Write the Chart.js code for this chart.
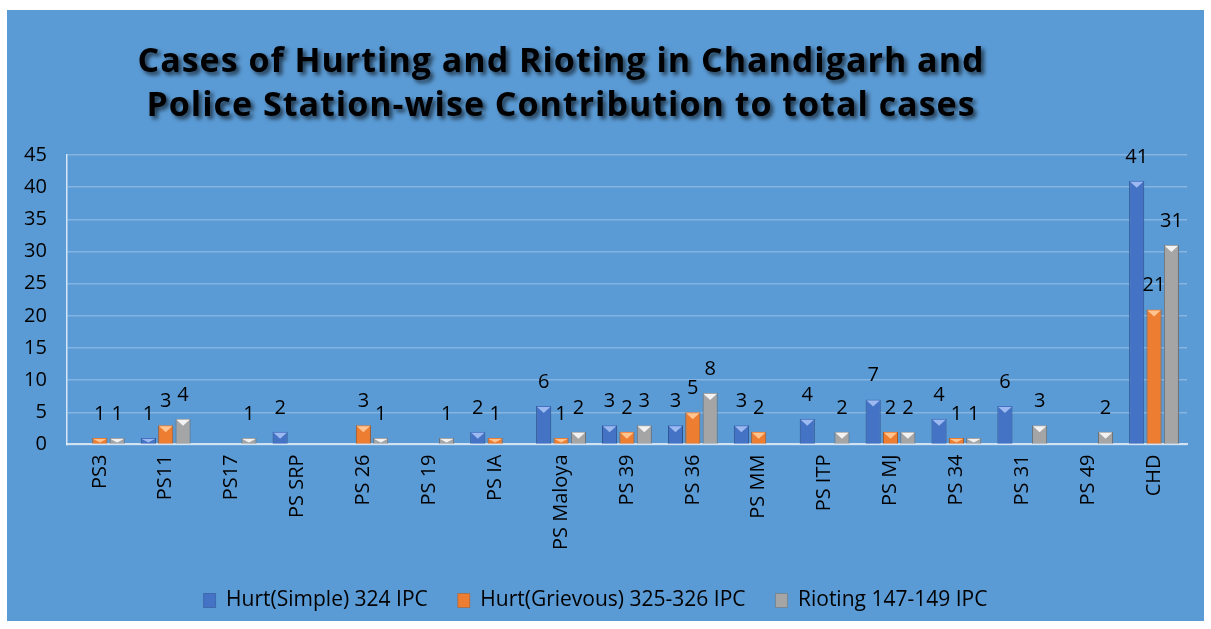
<!DOCTYPE html>
<html>
<head>
<meta charset="utf-8">
<script src="https://cdn.jsdelivr.net/npm/chart.js@4"></script>
<style>
  html, body { margin: 0; padding: 0; background: #fff; }
  #wrap { position: absolute; left: 7px; top: 10px; width: 1197px; height: 611px; background: #5B9BD5; }
</style>
</head>
<body>
<div id="wrap"><canvas id="grafico"></canvas></div>
<script>
const titulo = ['Cases of Hurting and Rioting in Chandigarh and', 'Police Station-wise Contribution to total cases'];
const estacoes = ['PS3', 'PS11', 'PS17', 'PS SRP', 'PS 26', 'PS 19', 'PS IA', 'PS Maloya', 'PS 39', 'PS 36', 'PS MM', 'PS ITP', 'PS MJ', 'PS 34', 'PS 31', 'PS 49', 'CHD'];
const hurtSimple   = [0, 1, 0, 2, 0, 0, 2, 6, 3, 3, 3, 4, 7, 4, 6, 0, 41];
const hurtGrievous = [1, 3, 0, 0, 3, 0, 1, 1, 2, 5, 2, 0, 2, 1, 0, 0, 21];
const rioting      = [1, 4, 1, 0, 1, 1, 0, 2, 3, 8, 0, 2, 2, 1, 3, 2, 31];
const nomesSeries = ['Hurt(Simple) 324 IPC', 'Hurt(Grievous) 325-326 IPC', 'Rioting 147-149 IPC'];

const cores = ['#4472C4', '#ED7D31', '#A5A5A5'];
const bordas = ['#2E4F8C', '#A9561D', '#6E6E6E'];
const topos = ['#9CB9F0', '#FFC48F', '#F2F2F2'];

// titulo com sombra, desenhado a mao
const tituloPlugin = {
  id: 'tituloSombra',
  afterDraw(chart) {
    const ctx = chart.ctx;
    ctx.save();
    ctx.font = 'bold 34px "Open Sans"';
    ctx.letterSpacing = '1px';
    ctx.textAlign = 'center';
    ctx.textBaseline = 'alphabetic';
    ctx.fillStyle = '#000';
    ctx.shadowColor = 'rgba(0,0,0,0.65)';
    ctx.shadowOffsetX = 3;
    ctx.shadowOffsetY = 3;
    ctx.shadowBlur = 4;
    ctx.fillText(titulo[0], 554, 62);
    ctx.fillText(titulo[1], 554, 106);
    ctx.restore();
  }
};

// tampa "3D" das barras + rotulos de valor
const barrasPlugin = {
  id: 'barras3d',
  afterDatasetsDraw(chart) {
    const ctx = chart.ctx;
    ctx.save();
    chart.data.datasets.forEach((ds, i) => {
      const meta = chart.getDatasetMeta(i);
      meta.data.forEach((bar, j) => {
        const v = ds.data[j];
        if (!v) return;
        const w = bar.width;
        const h = Math.min(6, (bar.base - bar.y) * 0.6);
        ctx.fillStyle = topos[i];
        ctx.beginPath();
        ctx.moveTo(bar.x - w / 2 + 1, bar.y + 1);
        ctx.lineTo(bar.x + w / 2 - 1, bar.y + 1);
        ctx.lineTo(bar.x, bar.y + 1 + h);
        ctx.closePath();
        ctx.fill();
        ctx.fillStyle = '#000';
        ctx.font = '20px "Open Sans"';
        ctx.textAlign = 'center';
        ctx.textBaseline = 'alphabetic';
        ctx.fillText(v, bar.x, bar.y - 18);
      });
    });
    ctx.restore();
  }
};

const ctx = document.getElementById('grafico').getContext('2d');
new Chart(ctx, {
  type: 'bar',
  data: {
    labels: estacoes,
    datasets: [hurtSimple, hurtGrievous, rioting].map((serie, i) => ({
      label: nomesSeries[i],
      data: serie,
      backgroundColor: cores[i],
      borderColor: bordas[i],
      borderWidth: { left: 1, right: 1, top: 0, bottom: 0 },
      categoryPercentage: 0.79,
      barPercentage: 0.87
    }))
  },
  options: {
    responsive: true,
    maintainAspectRatio: false,
    animation: false,
    layout: { padding: { top: 145, left: -3, right: 17, bottom: 0 } },
    plugins: {
      title: { display: false },
      tooltip: { enabled: false },
      legend: {
        display: true,
        position: 'bottom',
        labels: {
          color: '#000',
          font: { family: 'Open Sans', size: 21 },
          boxWidth: 12,
          boxHeight: 14,
          padding: 30
        }
      }
    },
    scales: {
      x: {
        grid: { display: false, drawTicks: false },
        border: { color: 'rgba(220,232,245,0.9)', width: 2 },
        ticks: {
          color: '#000',
          font: { family: 'Open Sans', size: 20 },
          autoSkip: false,
          minRotation: 90,
          maxRotation: 90,
          padding: 10
        }
      },
      y: {
        min: 0,
        max: 45,
        grid: { color: 'rgba(255,255,255,0.25)', lineWidth: 1.5, drawTicks: false },
        border: { color: 'rgba(230,238,248,0.9)', width: 1.5 },
        ticks: {
          stepSize: 5,
          color: '#000',
          font: { family: 'Open Sans', size: 20 },
          padding: 20
        }
      }
    }
  },
  plugins: [tituloPlugin, barrasPlugin]
});
</script>
</body>
</html>
